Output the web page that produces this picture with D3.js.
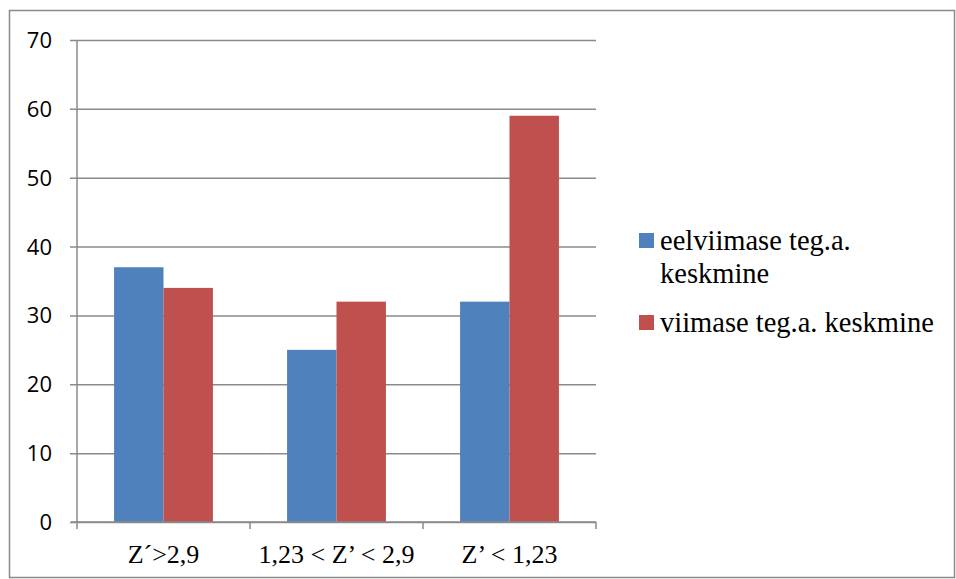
<!DOCTYPE html>
<html>
<head>
<meta charset="utf-8">
<script src="https://cdn.jsdelivr.net/npm/d3@7"></script>
<style>
  body { margin: 0; background: #fff; }
  svg { display: block; }
</style>
</head>
<body>
<svg id="chart" width="956" height="579"></svg>
<script>
// Chart data
const categories = ["Z\u00B4>2,9", "1,23 < Z\u2019 < 2,9", "Z\u2019 < 1,23"];
const seriesNames = ["eelviimase teg.a. keskmine", "viimase teg.a. keskmine"];
const prevYear = [37, 25, 32];
const lastYear = [34, 32, 59];
const yTicks = [0, 10, 20, 30, 40, 50, 60, 70];
const colors = ["#4F81BD", "#C0504D"];

const sansFont = "Open Sans, DejaVu Sans, sans-serif";
const serifFont = "Liberation Serif, Times New Roman, serif";

const svg = d3.select("#chart");
const gridColor = "#8a8a8a";

// Outer frame
svg.append("rect")
  .attr("x", 9.5).attr("y", 10.5)
  .attr("width", 945).attr("height", 567)
  .attr("fill", "none").attr("stroke", gridColor).attr("stroke-width", 1.5);

const plot = { left: 77, right: 596, top: 40, bottom: 522 };

const y = d3.scaleLinear().domain([0, 70]).range([plot.bottom, plot.top]);
const x = d3.scaleBand().domain(categories).range([plot.left, plot.right]);
// 150% gap width: the pair of bars fills 2/3.5 of each category
const gapShare = 0.75 / 3.5;
const inner = d3.scaleBand().domain([0, 1])
  .range([x.bandwidth() * gapShare, x.bandwidth() * (1 - gapShare)]);

// Horizontal gridlines with left tick marks
const yAxis = d3.axisLeft(y).tickValues(yTicks).tickSize(-(plot.right - plot.left));
const gy = svg.append("g").attr("transform", `translate(${plot.left},0)`).call(yAxis)
  .attr("font-family", sansFont).attr("font-size", 22);
gy.select(".domain").remove();
gy.selectAll(".tick line")
  .attr("x1", -7)
  .attr("stroke", gridColor).attr("stroke-width", 1.5);
gy.selectAll(".tick text")
  .attr("font-family", sansFont)
  .attr("font-size", 22)
  .attr("x", -25)
  .attr("dy", "0.34em")
  .attr("fill", "#000");

// Bars
const series = [prevYear, lastYear];
series.forEach((vals, si) => {
  svg.append("g").selectAll("rect")
    .data(vals)
    .join("rect")
    .attr("x", (d, i) => x(categories[i]) + inner(si))
    .attr("y", d => y(d))
    .attr("width", inner.bandwidth())
    .attr("height", d => y(0) - y(d))
    .attr("fill", colors[si]);
});

// Vertical axis line
svg.append("line")
  .attr("x1", plot.left).attr("x2", plot.left)
  .attr("y1", plot.top).attr("y2", plot.bottom)
  .attr("stroke", gridColor).attr("stroke-width", 1.5);

// Category axis
const xAxis = d3.axisBottom(x).tickSize(0).tickPadding(0);
const gx = svg.append("g").attr("transform", `translate(0,${plot.bottom})`).call(xAxis)
  .attr("font-family", serifFont).attr("font-size", 26);
gx.select(".domain").attr("stroke", gridColor).attr("stroke-width", 1.5)
  .attr("d", `M${plot.left - 6},0H${plot.right}`);
gx.selectAll(".tick text")
  .attr("font-family", serifFont)
  .attr("font-size", 26)
  .attr("y", 41)
  .attr("dy", 0)
  .attr("fill", "#000");
// Category boundary ticks
const bounds = categories.map(c => x(c)).concat([plot.right]);
svg.append("g").selectAll("line")
  .data(bounds)
  .join("line")
  .attr("x1", d => d).attr("x2", d => d)
  .attr("y1", plot.bottom).attr("y2", plot.bottom + 7)
  .attr("stroke", gridColor).attr("stroke-width", 1.5);

// Legend
const legend = svg.append("g");
const legendItems = [
  { lines: ["eelviimase teg.a.", "keskmine"], top: 233 },
  { lines: ["viimase teg.a. keskmine"], top: 315 }
];
legendItems.forEach((item, i) => {
  legend.append("rect")
    .attr("x", 639).attr("y", item.top)
    .attr("width", 15).attr("height", 15)
    .attr("fill", colors[i]);
  const t = legend.append("text")
    .attr("font-family", serifFont)
    .attr("font-size", 28.5)
    .attr("fill", "#000")
    .attr("x", 660).attr("y", item.top + 17);
  item.lines.forEach((ln, k) => {
    t.append("tspan").attr("x", 660).attr("dy", k === 0 ? 0 : 33).text(ln);
  });
});
</script>
</body>
</html>
